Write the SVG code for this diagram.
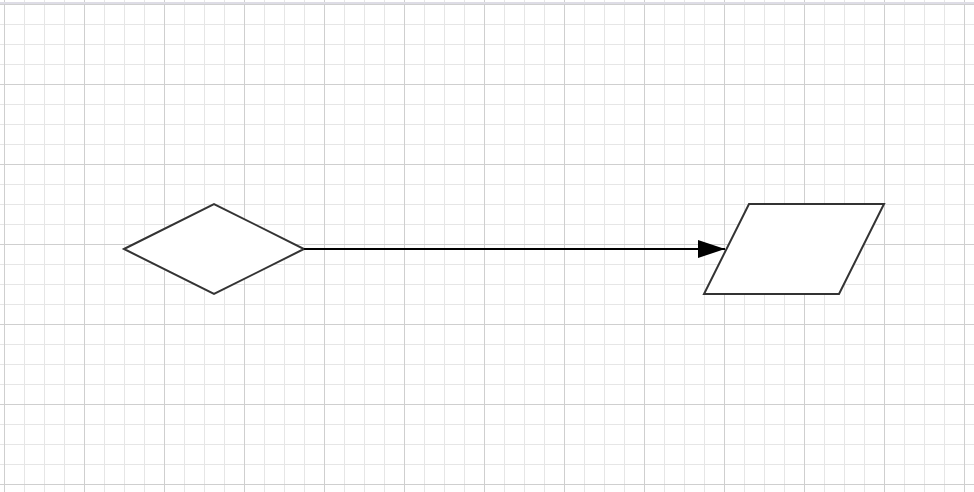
<svg xmlns="http://www.w3.org/2000/svg" width="974" height="492" viewBox="0 0 974 492">
  <defs>
    <pattern id="minor" x="4" y="4" width="20" height="20" patternUnits="userSpaceOnUse">
      <path d="M0 0.5H20M0.5 0V20" fill="none" stroke="#e6e6e6" stroke-width="1"/>
    </pattern>
    <pattern id="major" x="4" y="4" width="80" height="80" patternUnits="userSpaceOnUse">
      <path d="M0 0.5H80M0.5 0V80" fill="none" stroke="#cfcfcf" stroke-width="1"/>
    </pattern>
    <marker id="arrow" markerWidth="27" markerHeight="18" refX="27" refY="9" orient="auto" markerUnits="userSpaceOnUse">
      <path d="M0 0L27 9L0 18Z" fill="#000"/>
    </marker>
    <style>
      .shape { fill: #ffffff; stroke: #333333; stroke-width: 2; stroke-linejoin: miter; }
      .edge { fill: none; stroke: #000000; stroke-width: 2; }
    </style>
  </defs>
  <rect width="974" height="492" fill="#ffffff"/>
  <rect width="974" height="492" fill="url(#minor)"/>
  <rect width="974" height="492" fill="url(#major)"/>
  <rect x="0" y="2" width="974" height="2" fill="#dedde6"/>
  <g id="decision">
    <polygon class="shape" points="124,249 214,204 304,249 214,294"/>
  </g>
  <g id="data">
    <polygon class="shape" points="749,204 884,204 839,294 704,294"/>
  </g>
  <g id="connectors">
    <line class="edge" x1="304" y1="249" x2="725" y2="249" marker-end="url(#arrow)"/>
  </g>
</svg>
